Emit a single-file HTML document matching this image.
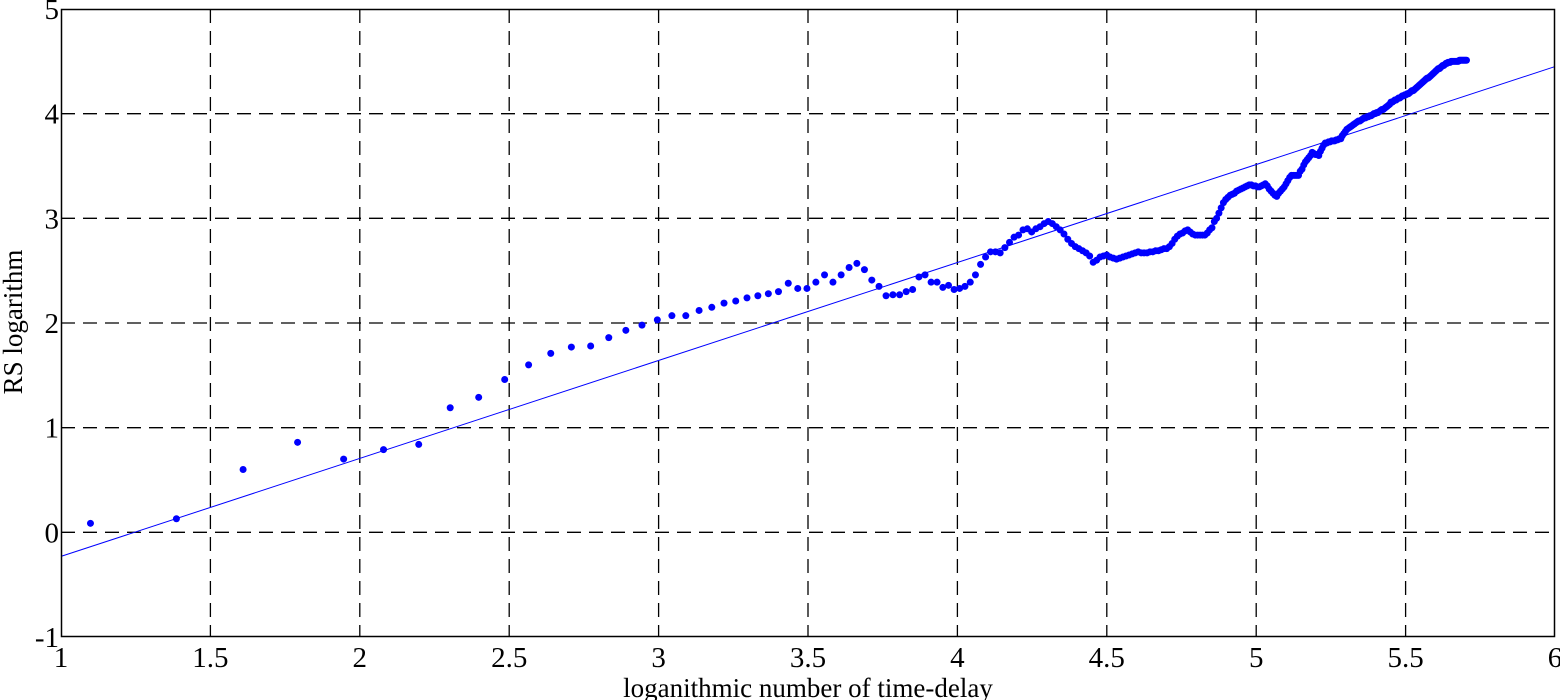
<!DOCTYPE html>
<html><head><meta charset="utf-8"><style>
body{margin:0;background:#fff;width:1560px;height:700px;overflow:hidden}
svg{display:block;font-family:"Liberation Serif",serif}
</style></head><body>
<svg id="chart" width="1560" height="700" viewBox="0 0 1560 700" xmlns="http://www.w3.org/2000/svg">
<g id="grid"></g>
<g id="fit"></g>
<g id="pts"></g>
<g id="axes"></g>
<text x="808" y="697" font-size="27" text-anchor="middle">loganithmic number of time-delay</text>
<text transform="translate(22,322) rotate(-90)" font-size="27" text-anchor="middle">RS logarithm</text>
</svg>
<script>
const xTicks=[1,1.5,2,2.5,3,3.5,4,4.5,5,5.5,6];
const xTickLabels=["1","1.5","2","2.5","3","3.5","4","4.5","5","5.5","6"];
const yTicks=[-1,0,1,2,3,4,5];
const yTickLabels=["-1","0","1","2","3","4","5"];
const delayStart=3;
const rsValues=[0.086,0.13,0.60,0.86,0.70,0.79,0.84,1.19,1.29,1.46,1.60,1.71,1.77,1.78,1.86,1.93,1.98,2.03,
2.07,2.07,2.12,2.15,2.19,2.21,2.24,2.26,2.28,2.30,2.38,2.33,2.33,2.39,2.46,2.39,2.46,2.53,2.57,2.51,2.41,2.35,2.26,2.27,2.27,2.30,2.32,2.44,2.46,2.39,2.39,2.34,2.36,2.32,2.33,2.35,2.39,2.46,2.56,2.63,2.68,2.68,2.67,2.72,2.77,2.82,2.84,2.89,2.90,2.87,2.90,2.92,2.95,
2.97,2.95,2.92,2.89,2.85,2.80,2.76,2.73,2.71,2.69,2.67,2.64,2.58,2.60,2.63,2.64,2.65,2.63,2.62,2.61,2.62,2.63,2.64,2.65,2.66,2.67,2.68,
2.67,2.67,2.67,2.68,2.68,2.69,2.69,2.70,2.71,2.71,
2.73,2.76,2.80,2.83,2.85,2.86,2.88,2.89,2.87,2.85,
2.84,2.84,2.84,2.84,2.84,2.86,2.89,2.91,2.97,3.00,
3.05,3.10,3.15,3.18,3.20,3.22,3.23,3.24,3.26,3.27,
3.28,3.29,3.30,3.31,3.32,3.32,3.31,3.31,3.30,3.30,
3.31,3.32,3.33,3.31,3.28,3.26,3.24,3.22,3.21,3.24,
3.26,3.28,3.30,3.33,3.36,3.39,3.41,3.41,3.41,3.41,
3.41,3.45,3.47,3.51,3.54,3.56,3.58,3.60,3.63,3.62,
3.61,3.61,3.60,3.64,3.67,3.70,3.72,3.72,3.73,3.73,
3.74,3.74,3.74,3.75,3.75,3.76,3.76,3.79,3.81,3.83,
3.85,3.86,3.87,3.88,3.89,3.90,3.91,3.92,3.93,3.93,
3.94,3.95,3.96,3.96,3.97,3.97,3.98,3.98,3.99,4.00,
4.00,4.01,4.01,4.02,4.03,4.04,4.04,4.05,4.06,4.07,
4.08,4.09,4.11,4.11,4.12,4.13,4.13,4.14,4.15,4.15,
4.16,4.17,4.17,4.18,4.18,4.19,4.19,4.20,4.21,4.22,
4.22,4.23,4.24,4.25,4.26,4.27,4.28,4.29,4.30,4.31,
4.32,4.33,4.34,4.34,4.35,4.36,4.37,4.38,4.39,4.40,
4.41,4.42,4.43,4.43,4.44,4.45,4.46,4.46,4.47,4.48,
4.48,4.49,4.49,4.49,4.50,4.50,4.50,4.50,4.50,4.50,
4.50,4.50,4.51,4.51,4.51,4.51,4.51,4.51,4.51,4.51];
const fitX=[1,6];
const fitY=[-0.23,4.45];

const NS="http://www.w3.org/2000/svg";
const L=61,R=1555,T=9,B=637,xMin=1,xMax=6,yMin=-1,yMax=5;
const sx=v=>L+(v-xMin)/(xMax-xMin)*(R-L);
const sy=v=>B-(v-yMin)/(yMax-yMin)*(B-T);
function mk(tag,attrs,parent){const e=document.createElementNS(NS,tag);for(const k in attrs)e.setAttribute(k,attrs[k]);parent.appendChild(e);return e;}
const grid=document.getElementById('grid'),axes=document.getElementById('axes'),pts=document.getElementById('pts'),fit=document.getElementById('fit');
xTicks.forEach((t,i)=>{
  const x=sx(t);
  if(i>0&&i<xTicks.length-1){
    const g=mk('line',{x1:x,x2:x,y1:T,y2:B,stroke:'#000','stroke-width':1.3,'stroke-dasharray':'14 8'},grid);
    
    
  }
  const lb=mk('text',{x:x,y:667,'font-size':29,'text-anchor':'middle'},axes);
  lb.textContent=xTickLabels[i];
  
  
});
yTicks.forEach((t,i)=>{
  const y=sy(t);
  if(i>0&&i<yTicks.length-1){
    const g=mk('line',{x1:L,x2:R,y1:y,y2:y,stroke:'#000','stroke-width':1.3,'stroke-dasharray':'14 8'},grid);
    
    
  }
  const lb=mk('text',{x:59,y:y+10,'font-size':29,'text-anchor':'end'},axes);
  lb.textContent=yTickLabels[i];
  
  
});
const box=mk('rect',{x:L+0.5,y:T+0.5,width:R-L-1,height:B-T-1,fill:'none',stroke:'#000','stroke-width':1.5},axes);


const fl=mk('line',{x1:sx(fitX[0]),y1:sy(fitY[0]),x2:sx(fitX[1]),y2:sy(fitY[1]),stroke:'#0000ff','stroke-width':1},fit);


rsValues.forEach((v,i)=>{
  const c=mk('circle',{cx:sx(Math.log(delayStart+i)),cy:sy(v),r:3.5,fill:'#0000ff'},pts);
  
  
});
</script>
</body></html>
